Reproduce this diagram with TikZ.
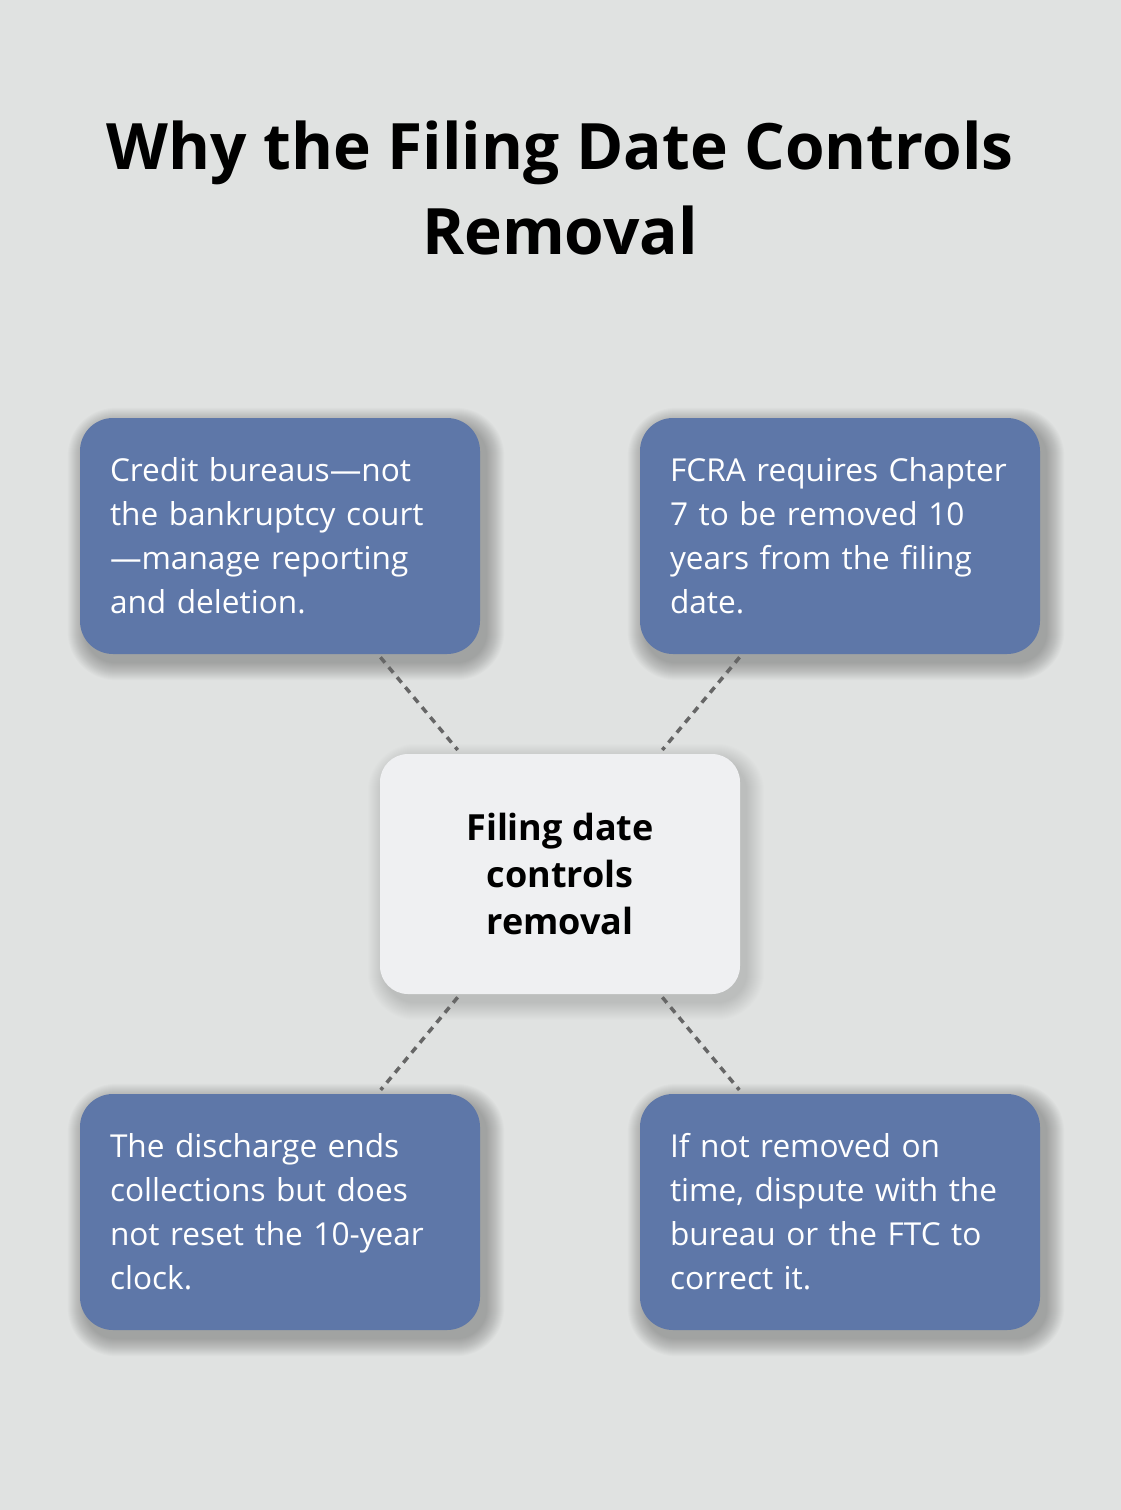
\documentclass[tikz,border=0pt]{standalone}
\usepackage{fontspec}
\setmainfont{Open Sans}
\usetikzlibrary{arrows.meta}

\definecolor{bg}{HTML}{E0E2E1}
\definecolor{cardblue}{HTML}{5E77A8}
\definecolor{midfill}{HTML}{EFF0F2}
\definecolor{linkgray}{HTML}{666666}

\pgfdeclarelayer{back}
\pgfdeclarelayer{shade}
\pgfsetlayers{back,shade,main}

\begin{document}
\begin{tikzpicture}[x=1pt,y=-1pt,
    card/.style={rectangle, rounded corners=33pt, fill=cardblue, text=white,
        minimum width=400pt, minimum height=236pt, text width=340pt, inner xsep=30pt,
        align=left, font=\fontsize{31.6}{44}\selectfont},
    hub/.style={rectangle, rounded corners=28pt, fill=midfill, text=black,
        minimum width=360pt, minimum height=240pt, align=center,
        font=\bfseries\fontsize{36}{47}\selectfont},
    link/.style={draw=linkgray, line width=3.5pt, dash pattern=on 7pt off 6pt, shorten <=4pt, shorten >=5pt}]
%\tikzstyle{card}=[rounded corners,fill=blue!50]
\useasboundingbox (0,0) rectangle (1120,1510);
\begin{pgfonlayer}{back}
\fill[bg] (-10,-10) rectangle (1130,1520);
\end{pgfonlayer}

\node[font=\bfseries\fontsize{64}{85}\selectfont, align=center] (t) at (560,188)
    {Why the Filing Date Controls\\Removal};

\begin{scope}
    \node[hub] (m) at (560,874) {Filing date\\controls\\removal};
    \node[card] (a) at (280,536) {Credit bureaus—not\\the bankruptcy court\\—manage reporting\\and deletion.};
    \node[card] (b) at (840,536) {FCRA requires Chapter\\7 to be removed 10\\years from the filing\\date.};
    \node[card] (c) at (280,1212) {The discharge ends\\collections but does\\not reset the 10-year\\clock.};
    \node[card] (d) at (840,1212) {If not removed on\\time, dispute with the\\bureau or the FTC to\\correct it.};
\end{scope}

% soft shadows
\begin{pgfonlayer}{shade}
\foreach \n/\o in {a/0.014, b/0.014, c/0.014, d/0.014, m/0.009}
    \foreach \i in {1,...,18}
        \fill[black, opacity=\o, rounded corners=30pt+\i pt]
            ([shift={(6-\i,8-\i)}]\n.north west) rectangle ([shift={(6+\i,8+\i)}]\n.south east);
\end{pgfonlayer}

\path [link] (a) edge (m);
\path [link] (b) edge (m);
\path [link] (m) edge (c);
\path [link] (m) edge (d);
\end{tikzpicture}
\end{document}
